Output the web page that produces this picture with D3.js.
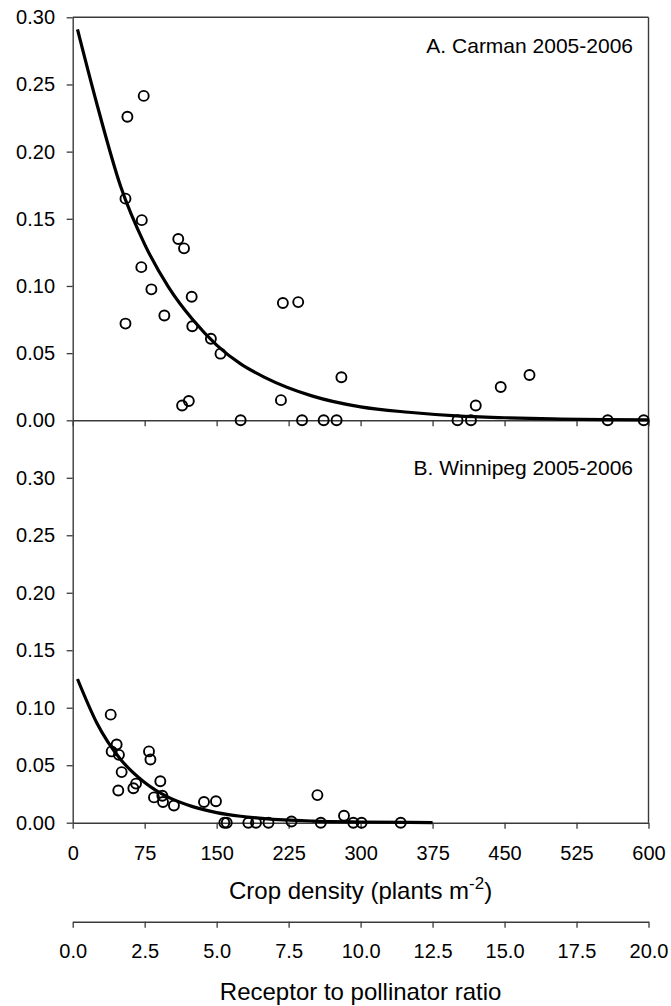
<!DOCTYPE html>
<html>
<head>
<meta charset="utf-8">
<script src="https://cdn.jsdelivr.net/npm/d3@7"></script>
<style>
  body { margin: 0; background: #fff; }
  text { font-family: "Liberation Sans", Arial, sans-serif; fill: #000; }
</style>
</head>
<body>
<svg id="chart" width="671" height="1006"></svg>
<script>
// Panel A: Carman 2005-2006 (crop density, proportion)
const carmanDensity = [57, 74, 55, 72, 110, 116, 71.5, 82, 124, 55, 95.5, 124.6, 144, 154, 114, 121,
  175, 219, 235, 217, 239, 261.5, 275, 280, 401, 415, 420, 446, 476, 557.5, 595];
const carmanValue = [0.226, 0.2415, 0.165, 0.149, 0.135, 0.128, 0.114, 0.0975, 0.092, 0.072, 0.078, 0.070, 0.0607, 0.0496, 0.011, 0.0144,
  0, 0.0873, 0.088, 0.015, 0, 0, 0, 0.032, 0, 0, 0.011, 0.0248, 0.0337, 0, 0];

// Panel B: Winnipeg 2005-2006
const winnipegDensity = [39.6, 40.6, 45.8, 48.2, 51, 47.5, 63.2, 66, 79.5, 81, 91.3, 84.7, 93.4, 94.1, 105.5, 136.8, 149.3,
  158, 160.5, 183, 191, 204, 228, 255, 258.5, 282.7, 292.4, 301, 341.8];
const winnipegValue = [0.094, 0.062, 0.068, 0.059, 0.044, 0.028, 0.030, 0.034, 0.062, 0.055, 0.036, 0.022, 0.0235, 0.018, 0.015, 0.018, 0.0186,
  0, 0, 0, 0, 0, 0.001, 0.024, 0, 0.006, 0, 0, 0];

// fitted curves
const carmanCurveX = [5, 25, 50, 75, 100, 125, 150, 175, 200, 250, 300, 350, 400, 450, 500, 600];
const carmanCurveY = [0.291, 0.236, 0.174, 0.131, 0.099, 0.075, 0.056, 0.042, 0.032, 0.018, 0.010, 0.006, 0.0033, 0.0019, 0.001, 0.0003];
const winnipegCurveX = [5, 25, 50, 75, 100, 125, 150, 175, 200, 250, 300, 375];
const winnipegCurveY = [0.125, 0.087, 0.055, 0.035, 0.022, 0.014, 0.0088, 0.0056, 0.0035, 0.0014, 0.0006, 0.00015];

const yTicks = [0, 0.05, 0.10, 0.15, 0.20, 0.25, 0.30];
const densityTicks = [0, 75, 150, 225, 300, 375, 450, 525, 600];
const ratioTicks = [0, 2.5, 5, 7.5, 10, 12.5, 15, 17.5, 20];

const svg = d3.select('#chart');
const left = 72.7, right = 648.5;
const topA = 17.3, baseA = 420.3, baseB = 822.7, ratioAxisY = 921.7;
const axisColor = '#3a3a3a';

const x = d3.scaleLinear().domain([0, 600]).range([left, right]);
const xRatio = d3.scaleLinear().domain([0, 20]).range([left, right]);
const yA = d3.scaleLinear().domain([0, 0.30]).range([baseA, topA]);
const yB = d3.scaleLinear().domain([0, 0.35]).range([baseB, baseA]);

const styleAxis = g => {
  g.attr('font-size', null).attr('font-family', null);
  g.selectAll('path.domain').attr('stroke', axisColor).attr('stroke-width', 1.4);
  g.selectAll('.tick line').attr('stroke', axisColor).attr('stroke-width', 1.3);
  g.selectAll('.tick text').style('font-size', '20px').attr('fill', '#000');
};

// frame: top and right edges
svg.append('line').attr('x1', left).attr('x2', right).attr('y1', topA).attr('y2', topA)
  .attr('stroke', axisColor).attr('stroke-width', 1.4);
svg.append('line').attr('x1', right).attr('x2', right).attr('y1', topA).attr('y2', baseB)
  .attr('stroke', axisColor).attr('stroke-width', 1.4);

// y axes
svg.append('g').attr('transform', `translate(${left},0)`)
  .call(d3.axisLeft(yA).tickValues(yTicks).tickFormat(d3.format('.2f')).tickSize(6).tickPadding(11.7).tickSizeOuter(0))
  .call(styleAxis);
svg.append('g').attr('transform', `translate(${left},0)`)
  .call(d3.axisLeft(yB).tickValues(yTicks).tickFormat(d3.format('.2f')).tickSize(6).tickPadding(11.7).tickSizeOuter(0))
  .call(styleAxis);

// x axes
svg.append('g').attr('transform', `translate(0,${baseA})`)
  .call(d3.axisBottom(x).tickValues(densityTicks).tickFormat('').tickSize(6).tickSizeOuter(0))
  .call(styleAxis);
svg.append('g').attr('transform', `translate(0,${baseB})`)
  .call(d3.axisBottom(x).tickValues(densityTicks).tickFormat(d3.format('d')).tickSize(6).tickPadding(17).tickSizeOuter(0))
  .call(styleAxis);
svg.append('g').attr('transform', `translate(0,${ratioAxisY})`)
  .call(d3.axisBottom(xRatio).tickValues(ratioTicks).tickFormat(d3.format('.1f')).tickSize(6).tickPadding(16).tickSizeOuter(0))
  .call(styleAxis);

// curves
const drawCurve = (xs, ys, yScale) => {
  const pts = xs.map((v, i) => [v, ys[i]]);
  svg.append('path')
    .datum(pts)
    .attr('fill', 'none')
    .attr('stroke', '#000')
    .attr('stroke-width', 3.2)
    .attr('d', d3.line().x(d => x(d[0])).y(d => yScale(d[1])).curve(d3.curveMonotoneX));
};
drawCurve(carmanCurveX, carmanCurveY, yA);
drawCurve(winnipegCurveX, winnipegCurveY, yB);

// points
const drawPoints = (xs, ys, yScale) => {
  svg.append('g').selectAll('circle').data(xs.map((v, i) => [v, ys[i]]))
    .enter().append('circle')
      .attr('cx', d => x(d[0]))
      .attr('cy', d => yScale(d[1]))
      .attr('r', 5)
      .attr('fill', 'none')
      .attr('stroke', '#000')
      .attr('stroke-width', 1.9);
};
drawPoints(carmanDensity, carmanValue, yA);
drawPoints(winnipegDensity, winnipegValue, yB);

// panel labels
svg.append('text').attr('x', 633).attr('y', 53).attr('text-anchor', 'end')
  .style('font-size', '21px').text('A. Carman 2005-2006');
svg.append('text').attr('x', 633).attr('y', 475).attr('text-anchor', 'end')
  .style('font-size', '21px').text('B. Winnipeg 2005-2006');

// axis titles
const densityTitle = svg.append('text').attr('x', (left + right) / 2).attr('y', 899)
  .attr('text-anchor', 'middle').style('font-size', '24px');
densityTitle.append('tspan').text('Crop density (plants m');
densityTitle.append('tspan').attr('dy', -10).style('font-size', '17px').text('-2');
densityTitle.append('tspan').attr('dy', 10).text(')');

svg.append('text').attr('x', (left + right) / 2).attr('y', 1000)
  .attr('text-anchor', 'middle').style('font-size', '24px')
  .text('Receptor to pollinator ratio');
</script>
</body>
</html>
